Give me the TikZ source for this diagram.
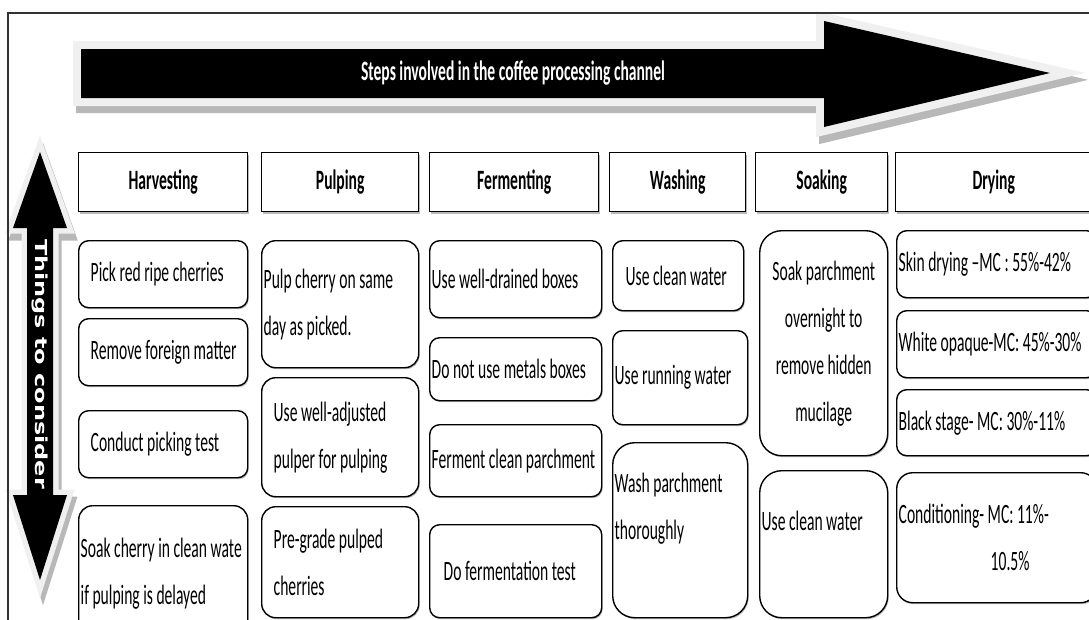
\documentclass[tikz,border=0pt]{standalone}
\usepackage{fontspec}
\setmainfont{Carlito}[FakeStretch=0.557]
\newfontfamily\sidefont{DejaVu Sans}[FakeStretch=1.45]
\usetikzlibrary{shadows}

\newcommand{\itemfont}{\fontsize{28}{47}\selectfont\hyphenpenalty=10000 }
\newcommand{\headfont}{\bfseries\fontsize{28}{34}\selectfont}

\tikzset{
  item/.style={draw, line width=1.4pt, rounded corners=10pt, fill=white,
    font=\itemfont, align=flush left, anchor=north west, inner xsep=2pt, inner ysep=0pt,
    drop shadow={shadow xshift=1pt, shadow yshift=-1.5pt, fill=black!55}},
  head/.style={draw, line width=1.4pt, fill=white, font=\headfont,
    anchor=north west, minimum height=59pt,
    drop shadow={shadow xshift=1pt, shadow yshift=-2pt, fill=black!55}},
  boxsize/.code 2 args={\pgfmathsetlengthmacro\boxtw{#1-4}%
    \pgfkeysalso{minimum width=#1pt, minimum height=#2pt, text width=\boxtw}},
  pad/.style={execute at begin node={\leftskip=#1\relax}},
  arrowshadow/.style={draw=black!28, fill=black!28, shift={(3,7)}},
  arrowglow/.style={draw=black!6},
  arrowbody/.style={fill=black},
}

\begin{document}
\begin{tikzpicture}[x=1pt,y=-1pt]
  \useasboundingbox (0,0) rectangle (1089,619);
  \clip (0,0) rectangle (1089,619);

  % top arrow
  \begin{scope}[line width=16pt]
    \foreach \s in {arrowshadow, arrowglow, arrowbody}
      \path[\s] (81,49) -- (824,49) -- (824,21) -- (1050,73) -- (824,127)
        -- (824,98) -- (81,98) -- cycle;
  \end{scope}
  \node[font=\headfont, text=white] (title) at (513,73)
    {Steps involved in the coffee processing channel};

  % side arrow
  \begin{scope}[line width=11pt]
    \foreach \s in {arrowshadow, arrowglow, arrowbody}
      \path[\s] (40,152) -- (67,228) -- (53,228) -- (53,495) -- (67,495)
        -- (40,580) -- (13,495) -- (27,495) -- (27,228) -- (13,228) -- cycle;
  \end{scope}
  \node[font=\sidefont\bfseries\fontsize{16.5}{20}\selectfont, text=white,
    rotate=-90] (consider) at (40,364) {Things to consider};

  % frame
  \draw[black!80, line width=1.3pt] (8,625) -- (8,13) -- (1095,13);

  % column heads
  \foreach \n/\x/\w/\t in {harvest/78/169/Harvesting, pulp/261/157/Pulping,
      ferment/429/169/Fermenting, wash/609/136/Washing, soak/755/132/Soaking,
      dry/895/196/Drying}
    \node[head, minimum width=\w pt] (\n) at (\x,152) {\t};

  % harvesting
  \node[item, boxsize={169}{67}, pad=10pt] (harv1) at (78,240) {Pick red ripe cherries};
  \node[item, boxsize={169}{67}, pad=10pt] (harv2) at (78,318) {Remove foreign matter};
  \node[item, boxsize={169}{67}, pad=10pt] (harv3) at (78,410) {Conduct picking test};
  \node[item, boxsize={169}{135}, rounded corners=14pt] (harv4) at (78,505)
    {Soak cherry in clean wate\\if pulping is delayed};
  % pulping
  \node[item, boxsize={157}{127}, rounded corners=14pt] (pulp1) at (261,240)
    {Pulp cherry on same\\day as picked.};
  \node[item, boxsize={157}{119}, rounded corners=14pt, pad=10pt] (pulp2) at (261,377)
    {Use well-adjusted\\pulper for pulping};
  \node[item, boxsize={157}{111}, rounded corners=14pt, pad=10pt] (pulp3) at (261,506)
    {Pre-grade pulped\\cherries};
  % fermenting
  \node[item, boxsize={172}{77}] (ferm1) at (429,240) {Use well-drained boxes};
  \node[item, boxsize={172}{63}] (ferm2) at (429,337) {Do not use metals boxes};
  \node[item, boxsize={172}{72}] (ferm3) at (429,424) {Ferment clean parchment};
  \node[item, boxsize={172}{93}, pad=12pt] (ferm4) at (429,524) {Do fermentation test};
  % washing
  \node[item, boxsize={131}{70}, pad=11pt] (wash1) at (612,240) {Use clean water};
  \node[item, boxsize={135}{94}] (wash2) at (612,330) {Use running water};
  \node[item, boxsize={135}{175}, rounded corners=22pt] (wash3) at (612,442)
    {Wash parchment\\thoroughly\\\mbox{}};
  % soaking
  \node[item, boxsize={128}{225}, rounded corners=22pt, align=flush center] (soak1) at (759,230)
    {Soak parchment\\overnight to\\remove hidden\\mucilage};
  \node[item, boxsize={128}{147}, rounded corners=22pt] (soak2) at (759,470)
    {Use clean water\\\mbox{}};
  % drying
  \node[item, boxsize={200}{67}] (dry1) at (896,230) {Skin drying –MC : 55\%-42\%};
  \node[item, boxsize={200}{67}] (dry2) at (896,310) {White opaque-MC: 45\%-30\%};
  \node[item, boxsize={200}{66}] (dry3) at (896,389) {Black stage- MC: 30\%-11\%};
  \node[item, boxsize={200}{130}, rounded corners=16pt] (dry4) at (896,472)
    {Conditioning- MC: 11\%-\\\hspace*{92pt}10.5\%};
\end{tikzpicture}
\end{document}
